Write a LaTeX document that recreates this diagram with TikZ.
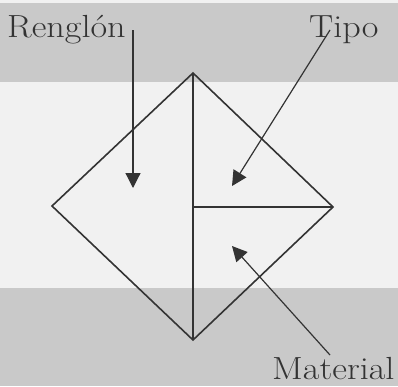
\documentclass[tikz,border=0pt]{standalone}
\usepackage{graphicx}
\usetikzlibrary{arrows.meta}
\definecolor{band}{HTML}{C9C9C9}
\definecolor{paper}{HTML}{F1F1F1}
\definecolor{ink}{HTML}{333333}
\newcommand{\widetext}[1]{\scalebox{1.13}[1]{#1}}
\begin{document}
\begin{tikzpicture}[x=1pt,y=-1pt,
  lbl/.style={anchor=base west,inner sep=0pt,text=ink,font=\fontsize{32}{32}\selectfont},
  edge/.style={draw=ink,line width=1.6pt},
  pointer/.style={draw=ink,line width=1.2pt,-{Triangle[length=15pt,width=15pt]}}]
\useasboundingbox (0,0) rectangle (398,386);
\fill[paper] (0,0) rectangle (398,386);
\fill[band] (0,3) rectangle (398,82);
\fill[band] (0,288) rectangle (398,386);
% diamond
\coordinate (T) at (193,73);
\coordinate (L) at (52,206);
\coordinate (R) at (333,207);
\coordinate (B) at (193,340);
\coordinate (M) at (193,207);
\draw[edge,line join=miter] (T) -- (R) -- (B) -- (L) -- cycle;
\draw[edge] (T) -- (B);
\draw[edge] (M) -- (R);
% labels
\node[lbl] (renglon) at (7,37) {\widetext{Renglón}};
\node[lbl] (tipo) at (309,37) {\widetext{Tipo}};
\node[lbl] (material) at (272,379) {\widetext{Material}};
\coordinate (rs) at (133,30);
\coordinate (re) at (133,188);
\coordinate (ts) at (330,30);
\coordinate (te) at (232,186);
\coordinate (ms) at (330,355);
\coordinate (me) at (232,246);
\draw[pointer] (rs) -- (re);
\draw[pointer] (ts) -- (te);
\draw[pointer] (ms) -- (me);
\end{tikzpicture}
\end{document}
